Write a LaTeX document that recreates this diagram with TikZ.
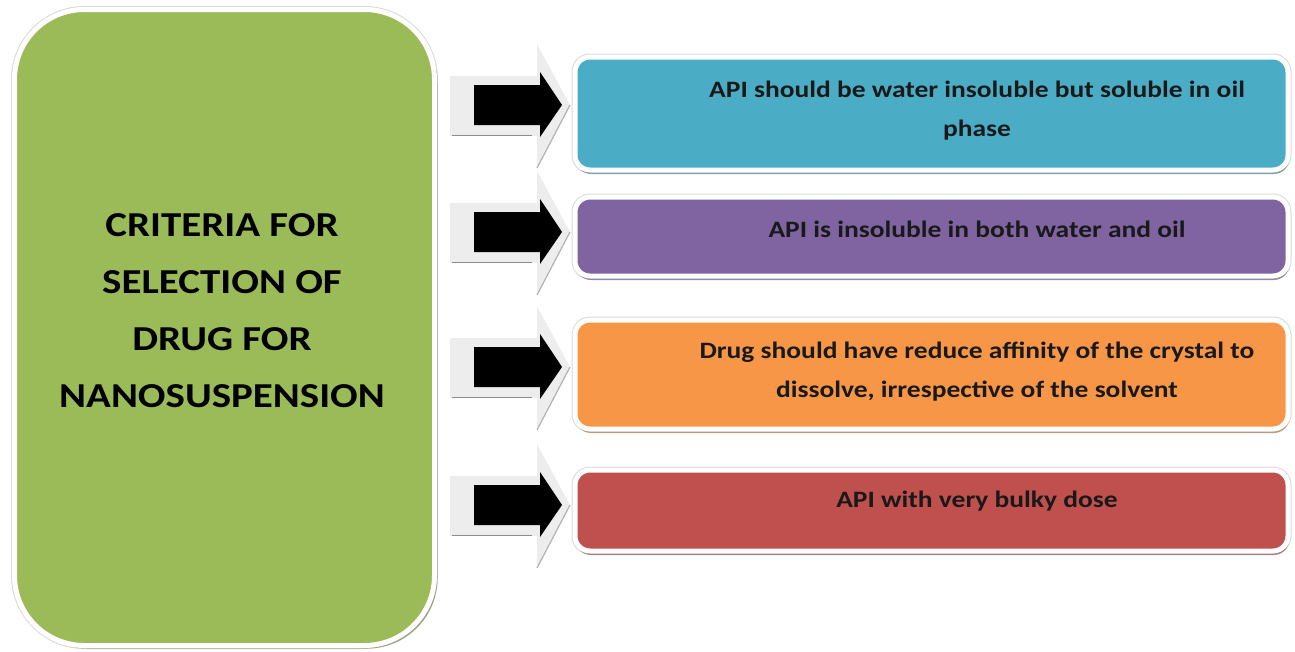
\documentclass[tikz,border=0pt]{standalone}
\usepackage{fontspec}
\setmainfont{Carlito}[FakeStretch=1.17]
\usetikzlibrary{positioning,shadows}

\definecolor{critgreen}{HTML}{9BBB59}
\definecolor{critblue}{HTML}{4BACC6}
\definecolor{critpurple}{HTML}{8064A2}
\definecolor{critorange}{HTML}{F79646}
\definecolor{critred}{HTML}{C0504D}

\tikzset{
  critframe/.style={rectangle, rounded corners=#1, draw=white, line width=5pt, inner sep=0pt,
    preaction={draw=black!15, line width=7pt}},
  critbox/.style={critframe=15pt, fill=#1, minimum width=713pt,
    drop shadow={shadow xshift=1pt, shadow yshift=-4pt, fill=#1!60!black, opacity=.55}},
  crittext/.style={align=center, font=\fontsize{23.5}{39}\selectfont\bfseries, text=black!90},
}

\begin{document}
\begin{tikzpicture}[x=1pt,y=-1pt]
\useasboundingbox (0,0) rectangle (1295,651);

%big green box
\node[critframe=70pt, fill=critgreen, minimum width=420pt, minimum height=636pt,
  drop shadow={shadow xshift=3pt, shadow yshift=-3pt, fill=critgreen!55!black, opacity=.5}]
  (crit) at (224.5,327.5) {};
\node[align=center, font=\fontsize{35}{57}\selectfont\bfseries] (crittitle) at (222,311)
  {CRITERIA FOR\\SELECTION OF\\DRUG FOR\\NANOSUSPENSION};

%arrows
\foreach \c in {105,232,367,505}{
  \fill[black!7] (450,\c-29) -- (537,\c-29) -- (537,\c-61) -- (570,\c) -- (537,\c+63) -- (537,\c+31) -- (450,\c+31) -- cycle;
  \draw[black!30, line width=1.2pt] (570,\c) -- (537,\c+63);
  \draw[black!45, line width=1pt] (452,\c+30) -- (532,\c+30);
  \fill[black] (474,\c-20) -- (540,\c-20) -- (540,\c-33) -- (562,\c) -- (540,\c+32) -- (540,\c+20) -- (474,\c+20) -- cycle;
}

%boxes
\node[critbox=critblue, minimum height=113pt] (api1) at (931.5,113.5) {};
\node[critbox=critpurple, minimum height=79pt] (api2) at (931.5,236.5) {};
\node[critbox=critorange, minimum height=109pt] (api3) at (931.5,374.5) {};
\node[critbox=critred, minimum height=81pt] (api4) at (931.5,510.5) {};

%labels
\node[crittext] (t1) at (977,111) {API should be water insoluble but soluble in oil\\phase};
\node[crittext] (t2) at (977,229) {API is insoluble in both water and oil};
\node[crittext] (t3) at (977,372) {Drug should have reduce affinity of the crystal to\\dissolve, irrespective of the solvent};
\node[crittext] (t4) at (977,501) {API with very bulky dose};
\end{tikzpicture}
\end{document}
